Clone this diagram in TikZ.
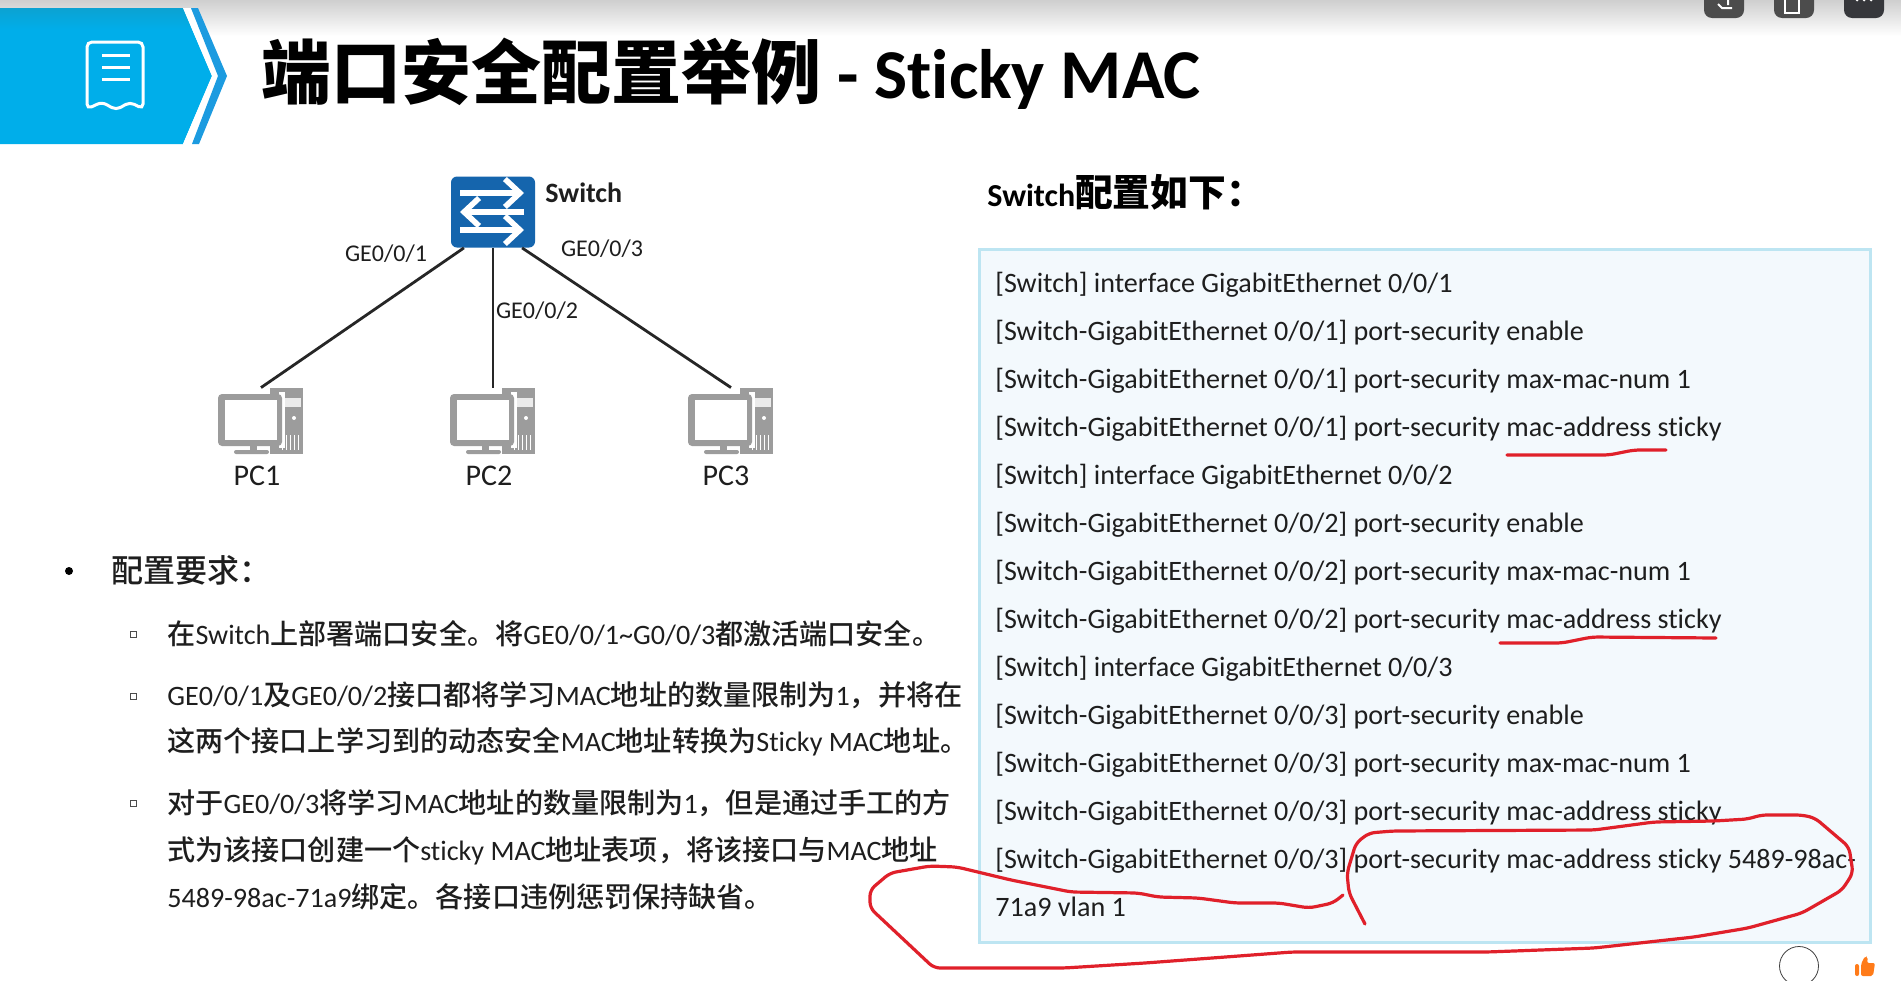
\documentclass[tikz,border=0pt]{standalone}
\usepackage{fontspec}
\setmainfont{Carlito}[Ligatures=NoCommon]
\newfontfamily\cjk{Noto Sans CJK SC Medium}
\newfontfamily\cjkbold{Noto Sans CJK SC Bold}
\newfontfamily\cjkheavy{Noto Sans CJK SC Black}
\newcommand{\zh}[1]{{\cjk #1}}
\usetikzlibrary{arrows.meta}

\definecolor{hdrblue}{HTML}{00AEEA}
\definecolor{hdrtop}{HTML}{0CA2D2}
\definecolor{hdrstripe}{HTML}{1C9BE0}
\definecolor{swblue}{HTML}{1565AD}
\definecolor{pcgray}{HTML}{9C9C9C}
\definecolor{boxfill}{HTML}{F3F9FD}
\definecolor{boxline}{HTML}{BDE5F2}
\definecolor{redpen}{HTML}{E0202A}
\definecolor{txt}{HTML}{1E1E1E}

\begin{document}
\begin{tikzpicture}[
  x=0.5pt, y=-0.5pt,
  every node/.style={inner sep=0pt, text=txt},
  swbox/.style={rectangle, rounded corners=3pt, fill=swblue, minimum width=42pt, minimum height=35.5pt},
  swarrow/.style={draw=white, line width=2.8pt, -{Straight Barb[length=7.5pt, width=14pt, line width=2.8pt]}},
  pcnode/.style={rectangle, minimum width=42pt, minimum height=33pt},
  link/.style={draw=black!85, line width=1.4pt},
  portlabel/.style={font=\fontsize{12}{12}\selectfont},
  pclabel/.style={font=\fontsize{15}{15}\selectfont},
  reqline/.style={anchor=west, text height=10pt, text depth=3pt, font=\fontsize{14.05}{14}\selectfont},
  codeline/.style={anchor=west, text height=10pt, text depth=3pt, font=\fontsize{14.05}{14}\selectfont},
  subdot/.style={rectangle, draw=black!70, fill=white, line width=0.5pt, minimum size=3pt},
  pen/.style={draw=redpen, line width=1.6pt, line cap=round, line join=round, rounded corners=3pt},
  pcicon/.pic={
    \fill[pcgray] (9,-33) rectangle (42,33);
    \fill[white!80!pcgray] (13,-23) rectangle (40,-14);
    \fill[white] (33,-3) circle (2);
    \foreach \vx in {21,25,29,33,37} \draw[white, line width=0.5pt] (\vx,14) -- (\vx,29);
    \fill[white] (18,-29) rectangle (24,27);
    \fill[pcgray, rounded corners=2pt] (-43,-27) rectangle (21,25);
    \fill[white] (-36,-21) rectangle (16,19);
    \fill[pcgray] (-11,25) rectangle (-4,29);
    \fill[pcgray, rounded corners=1pt] (-27,29) rectangle (8,33);
  }
]
\useasboundingbox (0,0) rectangle (1901,980);
\fill[white] (0,0) rectangle (1901,980);

% top of the screen
\shade[top color=black!19, bottom color=white] (0,0) rectangle (1901,36);
\fill[black!70!white] (1704,-8) [rounded corners=4pt] rectangle (1744,18);
\fill[black!70!white] (1774,-8) [rounded corners=4pt] rectangle (1814,18);
\fill[black!88!cyan] (1844,-8) [rounded corners=4pt] rectangle (1884,18);
\draw[white, line width=1pt] (1718,4) -- (1722,8) -- (1732,8) (1728,0) -- (1728,5);
\draw[white, line width=1pt] (1785,-2) rectangle (1799,13);
\fill[white] (1857,0) circle (1.5) (1864,0) circle (1.5) (1871,0) circle (1.5);

% header
\fill[hdrblue] (0,8) -- (183,8) -- (212,76) -- (183,144) -- (0,144) -- cycle;
\shade[top color=hdrtop, bottom color=hdrblue] (0,8) -- (183,8) -- (192,30) -- (0,30) -- cycle;
\fill[white] (183,8) -- (191,8) -- (218,76) -- (192,144) -- (183,144) -- (212,76) -- cycle;
\fill[hdrstripe] (191,8) -- (198,8) -- (227,76) -- (199,144) -- (192,144) -- (218,76) -- cycle;
\draw[white, line width=1.5pt, rounded corners=2.5pt] (143,109) -- (143,42) -- (87,42) -- (87,109) -- (102,102) -- (116,110) -- (130,102) -- cycle;
\foreach \ly in {55,67,79} \draw[white, line width=1.5pt] (102,\ly) -- (130,\ly);
\node[anchor=west, text=black, font=\fontsize{35}{35}\selectfont] (title) at (261,74) {{\cjkheavy 端口安全配置举例} \textbf{- Sticky MAC}};

% topology
\node[swbox] (sw) at (493,212) {};
\foreach \ay/\ax/\bx in {193/460/524, 212/524/460, 230/460/524}
  \draw[swarrow] (\ax,\ay) -- (\bx,\ay);
\node[anchor=west, font=\fontsize{14}{14}\selectfont\bfseries] (swname) at (545,193) {Switch};

\node[pcnode] (pc1) at (261,421) {};
\node[pcnode] (pc2) at (493,421) {};
\node[pcnode] (pc3) at (731,421) {};
\pic at (pc1) {pcicon};
\pic at (pc2) {pcicon};
\pic at (pc3) {pcicon};
\node[pclabel] (pc1name) at (257,476) {PC1};
\node[pclabel] (pc2name) at (489,476) {PC2};
\node[pclabel] (pc3name) at (726,476) {PC3};

\draw[link] (sw.231) -- (pc1.north);
\draw[link] (sw.south) -- (pc2.north);
\draw[link] (sw.309) -- (pc3.north);
\node[portlabel] (ge1) at (386,254) {GE0/0/1};
\node[portlabel] (ge2) at (537,311) {GE0/0/2};
\node[portlabel] (ge3) at (602,249) {GE0/0/3};

% requirements
\node[circle, fill=black, minimum size=4pt] (dot0) at (69,571) {};
\node[reqline, font=\fontsize{16}{16}\selectfont] (req0) at (111,575) {\zh{配置要求：}};
\node[subdot] (dot1) at (133,634) {};
\node[subdot] (dot2) at (133,696) {};
\node[subdot] (dot3) at (133,803) {};
\node[reqline] (req1) at (167,637) {\zh{在}Switch\zh{上部署端口安全。将}GE0/0/1\textasciitilde G0/0/3\zh{都激活端口安全。}};
\node[reqline] (req2) at (167,698) {GE0/0/1\zh{及}GE0/0/2\zh{接口都将学习}MAC\zh{地址的数量限制为}1\zh{，并将在}};
\node[reqline] (req3) at (167,744) {\zh{这两个接口上学习到的动态安全}MAC\zh{地址转换为}Sticky MAC\zh{地址。}};
\node[reqline] (req4) at (167,806) {\zh{对于}GE0/0/3\zh{将学习}MAC\zh{地址的数量限制为}1\zh{，但是通过手工的方}};
\node[reqline] (req5) at (167,853) {\zh{式为该接口创建一个}sticky MAC\zh{地址表项，将该接口与}MAC\zh{地址}};
\node[reqline] (req6) at (167,900) {5489-98ac-71a9\zh{绑定。各接口违例惩罚保持缺省。}};

% configuration
\node[anchor=west, text=black, font=\fontsize{16}{16}\selectfont\bfseries] (cfgtitle) at (987,192) {Switch{\cjkbold\fontsize{18.9}{18.9}\selectfont 配置如下：}};
\draw[boxline, fill=boxfill, line width=1.5pt] (979,249) rectangle (1870,942);
\foreach \txt [count=\i from 0] in {
  {[Switch] interface GigabitEthernet 0/0/1},
  {[Switch-GigabitEthernet 0/0/1] port-security enable},
  {[Switch-GigabitEthernet 0/0/1] port-security max-mac-num 1},
  {[Switch-GigabitEthernet 0/0/1] port-security mac-address sticky},
  {[Switch] interface GigabitEthernet 0/0/2},
  {[Switch-GigabitEthernet 0/0/2] port-security enable},
  {[Switch-GigabitEthernet 0/0/2] port-security max-mac-num 1},
  {[Switch-GigabitEthernet 0/0/2] port-security mac-address sticky},
  {[Switch] interface GigabitEthernet 0/0/3},
  {[Switch-GigabitEthernet 0/0/3] port-security enable},
  {[Switch-GigabitEthernet 0/0/3] port-security max-mac-num 1},
  {[Switch-GigabitEthernet 0/0/3] port-security mac-address sticky},
  {[Switch-GigabitEthernet 0/0/3] port-security mac-address sticky 5489-98ac-},
  {71a9 vlan 1}}
  \node[codeline] (code\i) at (995,{285.5+48*\i}) {\txt};

% red pen
\draw[pen] (1507,455) -- (1609,455) -- (1634,450) -- (1666,450);
\draw[pen] (1500,643) -- (1562,643) -- (1592,637) -- (1716,638);
\draw[pen] (1343,895) -- (1333,903) -- (1309,908) -- (1279,903) -- (1235,903) -- (1198,898) -- (1158,897)
  -- (1138,893) -- (1071,892) -- (1011,880) -- (957,867) -- (930,866) -- (890,873) -- (870,890) -- (870,908)
  -- (934,968) -- (1064,968) -- (1145,963) -- (1212,958) -- (1292,952) -- (1487,952) -- (1594,948)
  -- (1694,937) -- (1748,928) -- (1802,913) -- (1842,890) -- (1853,873) -- (1849,847) -- (1815,818)
  -- (1802,815) -- (1761,815) -- (1748,819) -- (1714,821) -- (1654,822) -- (1594,830) -- (1393,831)
  -- (1369,833) -- (1356,843) -- (1347,873) -- (1349,893) -- (1365,924);

% bottom corner
\draw[black!75, line width=0.4pt] (1799,966) circle (19.5);
\fill[orange!85!red!90!white, rounded corners=1pt] (1855,964) rectangle (1859,976);
\fill[orange!85!red!90!white, rounded corners=1pt] (1861,976) -- (1861,964) -- (1865,956) -- (1868,957) -- (1867,963) -- (1875,963) -- (1873,976) -- cycle;
\end{tikzpicture}
\end{document}
